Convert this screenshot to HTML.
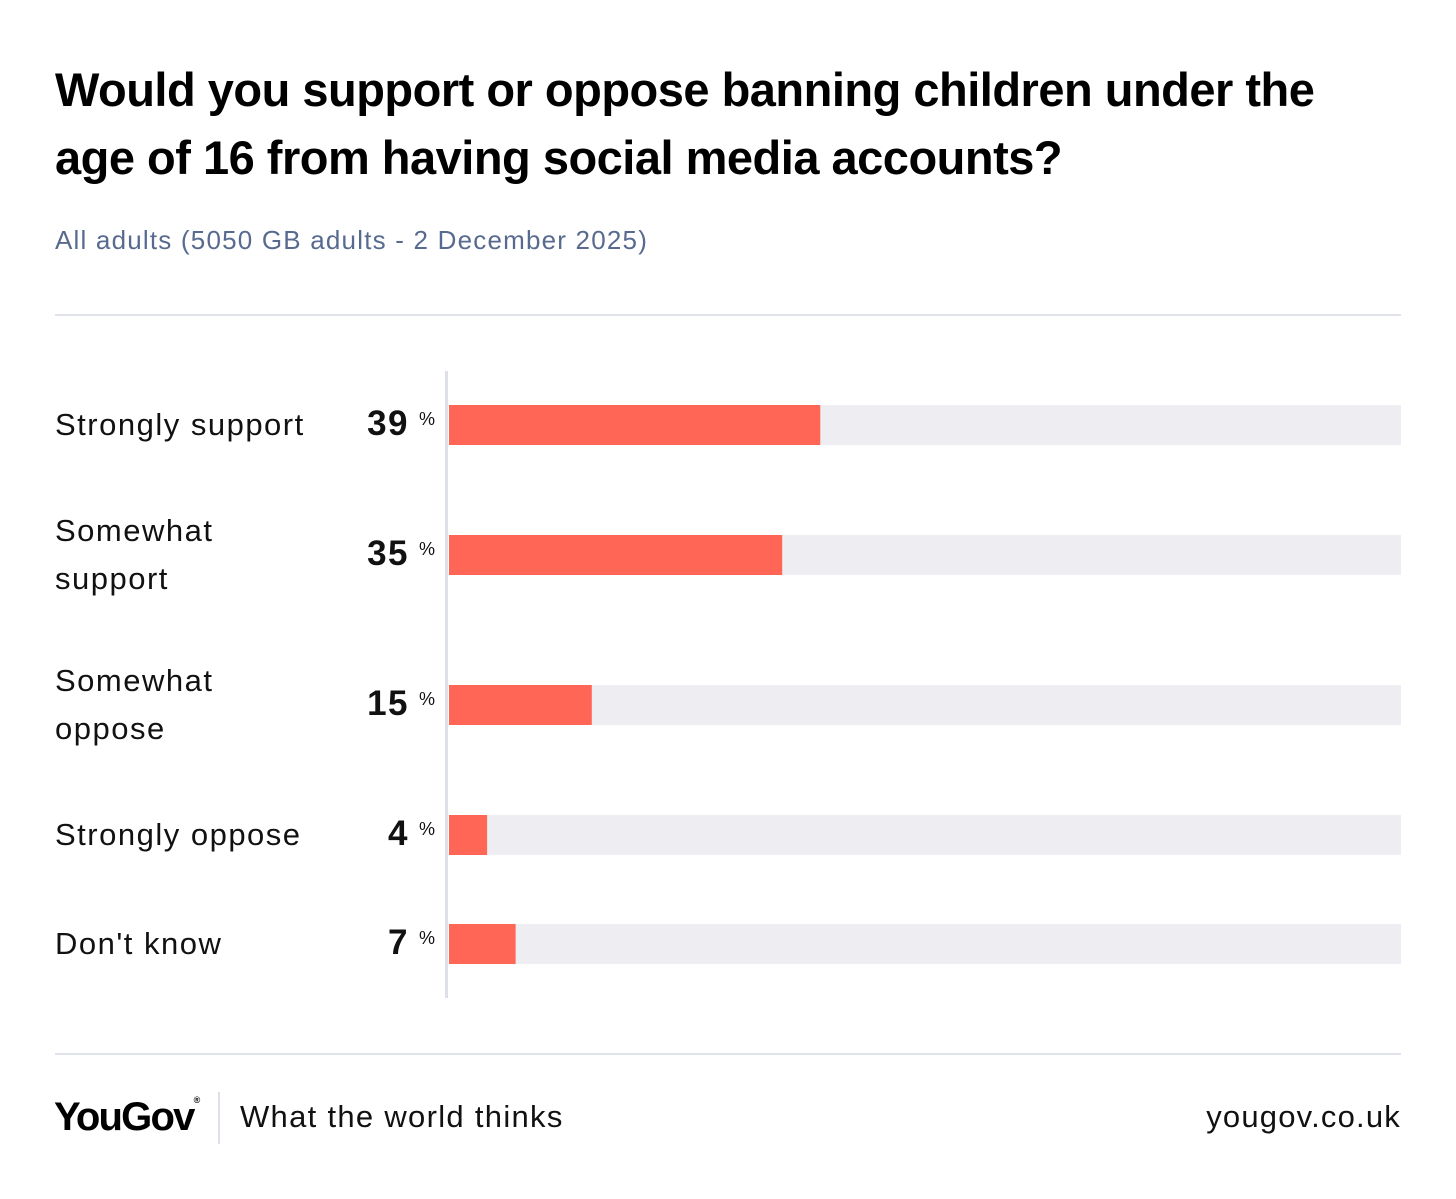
<!DOCTYPE html>
<html><head><meta charset="utf-8"><style>
body{margin:0;background:#fff;width:1456px;height:1199px;position:relative;font-family:"Liberation Sans",sans-serif;overflow:hidden}
.abs{position:absolute;white-space:nowrap}
.title{left:55px;font-size:47px;font-weight:bold;letter-spacing:-0.5px;color:#000}
.lbl{left:55px;font-size:31px;letter-spacing:1.5px;color:#111;line-height:48px;font-weight:500}
.val{font-size:35px;font-weight:bold;letter-spacing:1.5px;color:#111;text-align:right;width:100px;left:309px}
.pct{font-size:18px;color:#111;left:419px}
</style></head><body>
<div class="abs title" style="top:62px">Would you support or oppose banning children under the</div>
<div class="abs title" style="top:130px">age of 16 from having social media accounts?</div>
<div class="abs" style="left:55px;top:225px;font-size:26px;letter-spacing:1.2px;color:#586b8f">All adults (5050 GB adults - 2 December 2025)</div>
<div class="abs" style="left:55px;top:314px;width:1346px;height:2px;background:#e1e3ea"></div>
<svg class="abs" style="left:0;top:0" width="1456" height="1199" id="chart"></svg>
<div id="labels"></div>
<div class="abs" style="left:55px;top:1053px;width:1346px;height:2px;background:#e1e3ea"></div>
<div class="abs" style="left:54px;top:1095px;font-size:40px;font-weight:bold;letter-spacing:-1.8px;color:#000">YouGov<span style="font-size:9px;vertical-align:top;letter-spacing:0">®</span></div>
<div class="abs" style="left:218px;top:1092px;width:2px;height:52px;background:#dde0e8"></div>
<div class="abs" style="left:240px;top:1099px;font-size:31px;letter-spacing:1.3px;color:#111">What the world thinks</div>
<div class="abs" style="right:55px;top:1099px;font-size:31px;letter-spacing:1.2px;color:#111">yougov.co.uk</div>
<script>
const categories=["Strongly support","Somewhat support","Somewhat oppose","Strongly oppose","Don't know"];
const values=[39,35,15,4,7];
const labelLines=[["Strongly support"],["Somewhat","support"],["Somewhat","oppose"],["Strongly oppose"],["Don't know"]];
const rowTops=[405,535,685,815,924];
const x0=449,fullW=952,barH=40;
const xs=v=>x0+fullW*v/100;
const svg=document.getElementById('chart');
const NS="http://www.w3.org/2000/svg";
const axis=document.createElementNS(NS,'rect');
axis.setAttribute('x',445);axis.setAttribute('y',371);axis.setAttribute('width',3);axis.setAttribute('height',627);axis.setAttribute('fill','#dde0e8');


svg.appendChild(axis);
const lab=document.getElementById('labels');
categories.forEach((c,i)=>{
  const y=rowTops[i];
  const t=document.createElementNS(NS,'rect');
  t.setAttribute('x',x0);t.setAttribute('y',y);t.setAttribute('width',fullW);t.setAttribute('height',barH);t.setAttribute('fill','#eeeef2');
  
  
  svg.appendChild(t);
  const b=document.createElementNS(NS,'rect');
  b.setAttribute('x',x0);b.setAttribute('y',y);b.setAttribute('width',xs(values[i])-x0);b.setAttribute('height',barH);b.setAttribute('fill','#ff6656');
  
  
  svg.appendChild(b);
  const l=document.createElement('div');
  l.className='abs lbl';
  const lines=labelLines[i];
  l.style.top=(y+20-lines.length*24)+'px';
  l.innerHTML=lines.join('<br>');
  
  
  lab.appendChild(l);
  const v=document.createElement('div');
  v.className='abs val';v.style.top=(y-1)+'px';v.textContent=values[i];
  
  
  lab.appendChild(v);
  const p=document.createElement('div');
  p.className='abs pct';p.style.top=(y+4)+'px';p.textContent='%';
  
  
  lab.appendChild(p);
});
</script>
</body></html>
